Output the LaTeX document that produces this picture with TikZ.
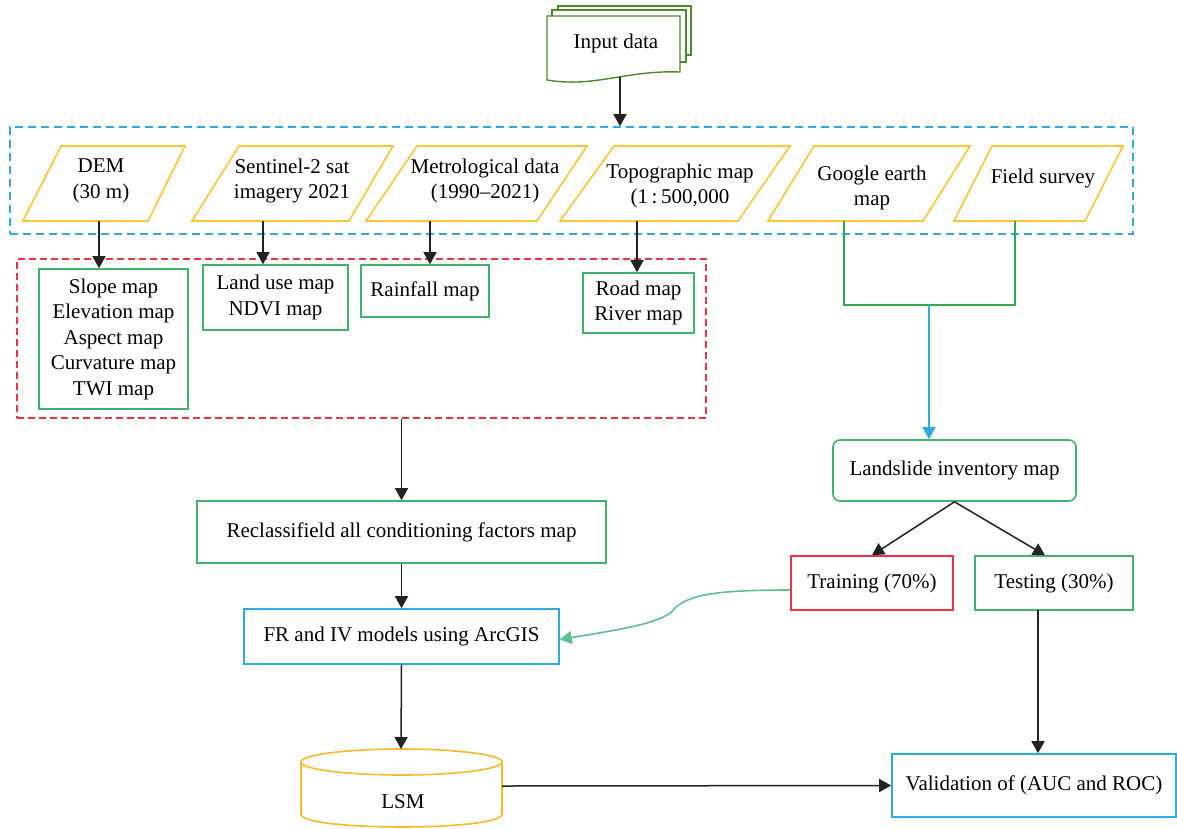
\documentclass[tikz,border=0pt]{standalone}
\usepackage{fontspec}
\setmainfont{Liberation Serif}
\usetikzlibrary{arrows.meta,calc}
\definecolor{ylw}{HTML}{FFC433}
\definecolor{grn}{HTML}{3FB56A}
\definecolor{dgrn}{HTML}{4A8A2C}
\definecolor{lgrn}{HTML}{2EAA4C}
\definecolor{cgrn}{HTML}{5CC18C}
\definecolor{blu}{HTML}{2EA9E4}
\definecolor{rd}{HTML}{EE3340}
\definecolor{org}{HTML}{FBB829}
\definecolor{ln}{HTML}{222222}
\begin{document}
\begin{tikzpicture}[x=1pt,y=-1pt,
  every node/.style={font=\fontsize{21}{25.5}\selectfont, inner sep=0pt, align=center},
  gbox/.style={draw=grn, line width=1.6pt, fill=white},
  bbox/.style={draw=blu, line width=1.6pt, fill=white},
  rbox/.style={draw=rd, line width=1.6pt, fill=white},
  para/.style={draw=ylw, line width=1.6pt, fill=white, line join=miter},
  docshape/.style={draw=dgrn, line width=1.4pt, fill=white},
  cyl/.style={draw=org, line width=1.6pt, fill=white},
  arr/.style={draw=ln, line width=1.5pt, -{Triangle[length=12pt,width=13pt]}},
  gline/.style={draw=lgrn, line width=1.6pt},
  barr/.style={draw=blu, line width=1.6pt, -{Triangle[length=12pt,width=13pt]}},
  carr/.style={draw=cgrn, line width=1.6pt, -{Triangle[length=12pt,width=13pt]}},
  bluedash/.style={draw=blu, line width=1.6pt, dash pattern=on 8pt off 5pt},
  reddash/.style={draw=rd, line width=1.6pt, dash pattern=on 7pt off 4pt}
]
\fill[white] (0,0) rectangle (1177,828);
\useasboundingbox (0,0) rectangle (1177,828);

% dashed group boxes
\node[bluedash, minimum width=1123pt, minimum height=107pt] (bluebox) at (571.5,180.5) {};
\node[reddash, minimum width=689pt, minimum height=159pt] (redbox) at (361.5,338.5) {};

% input data (stacked document)
\draw[docshape] (558,6) rectangle (691,55);
\draw[docshape] (552,10) rectangle (686,62);
\draw[docshape] (547,16) -- (680,16) -- (680,72) .. controls (625,70) and (595,88) .. (547,80) -- cycle;
\node (input) at (616,43) {Input data};
\coordinate (inb) at (620,77);

% parallelograms
\draw[para] (61,146) -- (185,146) -- (148,221) -- (23,221) -- cycle;
\draw[para] (239,146) -- (393,146) -- (349,221) -- (192,221) -- cycle;
\draw[para] (417,146) -- (587,146) -- (537,221) -- (366,221) -- cycle;
\draw[para] (614,146) -- (790,146) -- (738,221) -- (560,221) -- cycle;
\draw[para] (814,146) -- (970,146) -- (923,221) -- (768,221) -- cycle;
\draw[para] (992,146) -- (1123,146) -- (1085,221) -- (954,221) -- cycle;
\node (dem) at (101,181) {DEM\\(30 m)};
\node (sent) at (292,181) {Sentinel-2 sat\\imagery 2021};
\node (met) at (485,181) {Metrological data\\(1990–2021)};
\node (topo) at (680,186) {Topographic map\\(1\,:\,500,000};
\node (goog) at (872,188) {Google earth\\map};
\node (field) at (1043,178) {Field survey};
\coordinate (demb) at (99,221);
\coordinate (sentb) at (263,221);
\coordinate (metb) at (430,221);
\coordinate (topob) at (637,221);
\coordinate (googb) at (844,221);
\coordinate (fieldb) at (1015,221);
\coordinate (junc) at (929,305);

% factor boxes
\node[gbox, minimum width=149pt, minimum height=140pt] (slope) at (113.5,339) {Slope map\\Elevation map\\Aspect map\\Curvature map\\TWI map};
\node[gbox, minimum width=145pt, minimum height=65pt] (landuse) at (275.5,297.5) {Land use map\\NDVI map};
\node[gbox, minimum width=128pt, minimum height=52pt] (rain) at (425,291) {Rainfall map};
\node[gbox, minimum width=111pt, minimum height=60pt] (road) at (638.5,303) {Road map\\River map};

% processing chain
\node[gbox, minimum width=409pt, minimum height=62pt] (reclass) at (401.5,532) {Reclassifield all conditioning factors map};
\node[bbox, minimum width=315pt, minimum height=55pt] (fr) at (401.5,636.5) {FR and IV models using ArcGIS};
\node[gbox, rounded corners=7pt, minimum width=243pt, minimum height=61pt] (inv) at (954.5,470.5) {Landslide inventory map};
\node[rbox, minimum width=162pt, minimum height=54pt] (train) at (872,583) {Training (70\%)};
\node[gbox, minimum width=158pt, minimum height=54pt] (test) at (1054,583) {Testing (30\%)};
\node[bbox, minimum width=284pt, minimum height=63pt] (val) at (1034,785.5) {Validation of (AUC and ROC)};

% LSM cylinder
\draw[cyl] (301,762) -- (301,814) .. controls (301,831.3) and (502,831.3) .. (502,814) -- (502,762);
\draw[cyl] (401.5,762) ellipse [x radius=100.5pt, y radius=13pt];
\node (lsm) at (403,802) {LSM};
\coordinate (lsmtop) at (401,749);
\coordinate (lsmr) at (502,786);
\coordinate (testb) at (1038,610);

% connectors
\draw[arr] (inb) -- (inb |- bluebox.north);
\draw[arr] (demb) -- (demb |- slope.north);
\draw[arr] (sentb) -- (sentb |- landuse.north);
\draw[arr] (metb) -- (metb |- rain.north);
\draw[arr] (topob) -- (topob |- road.north);
\draw[gline] (googb) -- (googb |- junc) -| (fieldb);
\draw[barr] (junc) -- (junc |- inv.north);
\draw[arr] (inv.south) -- (train.north);
\draw[arr] (inv.south) -- ([xshift=-9pt]test.north);
\draw[arr] (reclass.north |- redbox.south) -- (reclass.north);
\draw[arr] (reclass.south) -- (fr.north);
\draw[arr] (fr.south) -- (lsmtop);
\draw[arr] (lsmr) -- (val.west);
\draw[arr] (testb) -- (testb |- val.north);
\draw[carr] ([yshift=-7pt]train.west) .. controls (720,590) and (690,594) .. (675,608) .. controls (665,622) and (630,628) .. ([yshift=-3pt]fr.east);
\end{tikzpicture}
\end{document}
